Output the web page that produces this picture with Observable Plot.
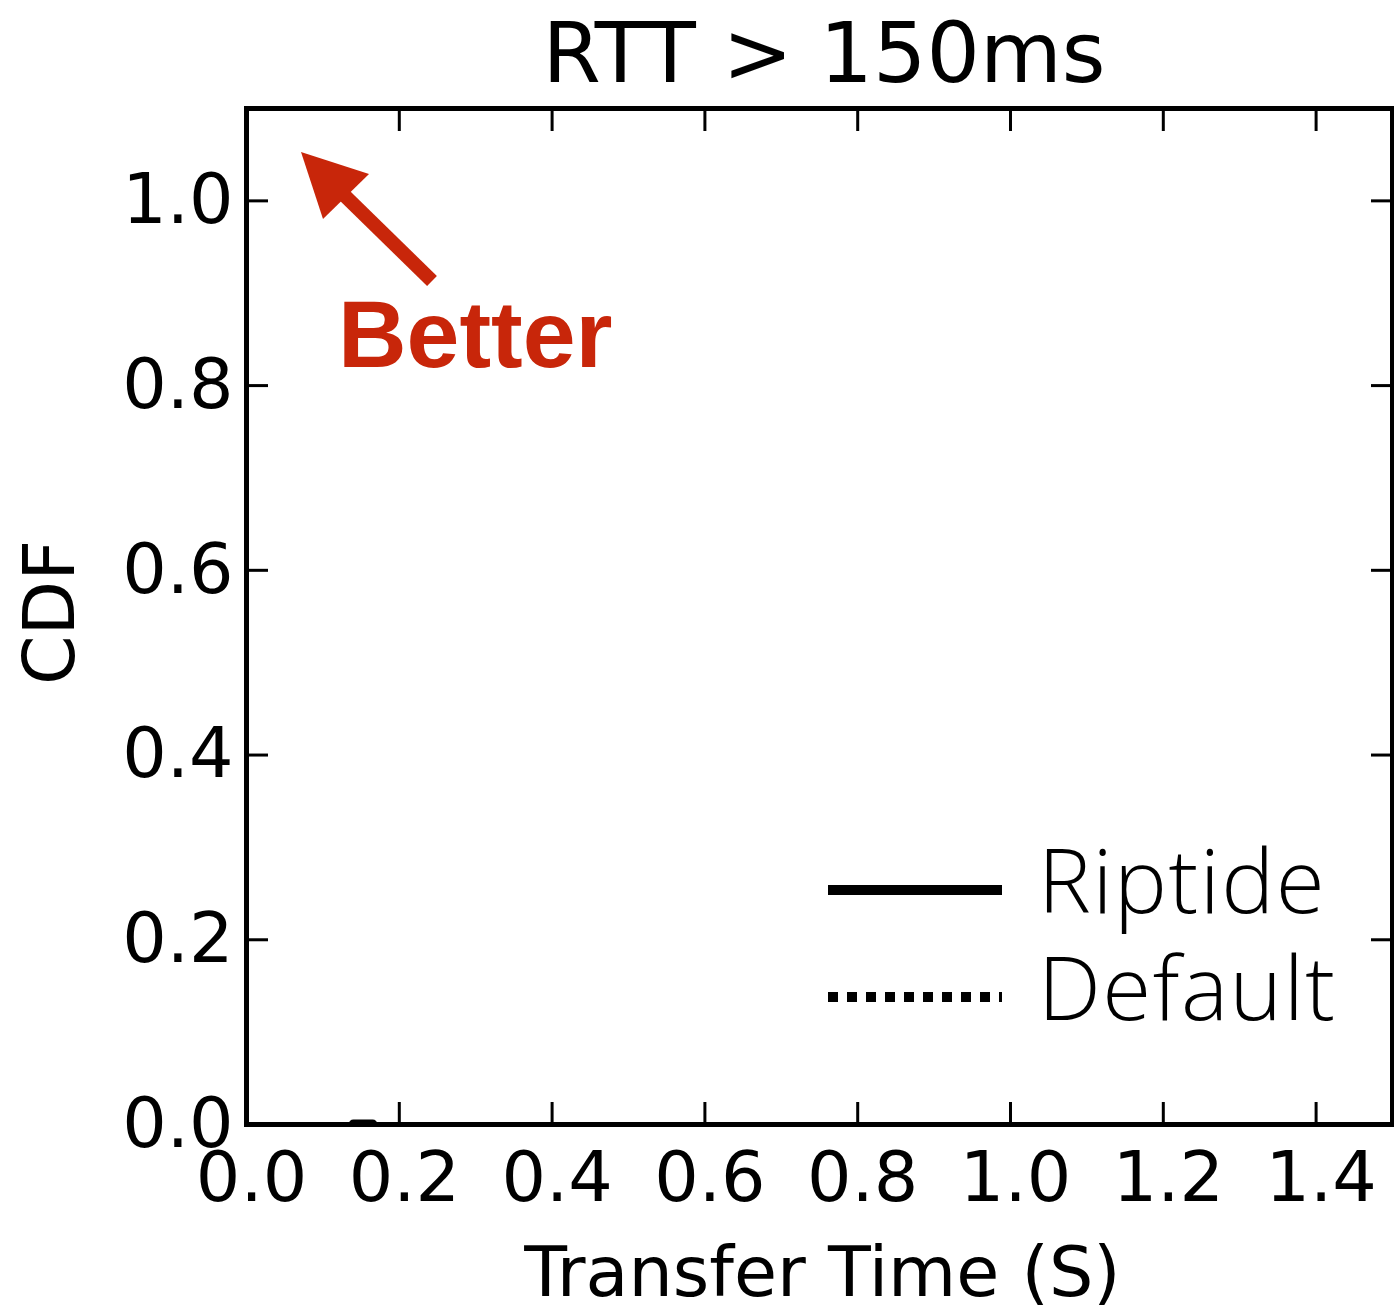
<!DOCTYPE html>
<html>
<head>
<meta charset="utf-8">
<script src="https://cdn.jsdelivr.net/npm/d3@7"></script>
<script src="https://cdn.jsdelivr.net/npm/@observablehq/plot@0.6"></script>
<style>
  html, body { margin: 0; padding: 0; background: #fff; }
  #wrap { position: relative; width: 1394px; height: 1308px; overflow: hidden; }
  #title { height: 100px; box-sizing: border-box; padding: 11px 0 0 254px; font-family: "DejaVu Sans"; font-size: 84px; line-height: 84px; text-align: center; color: #000; white-space: nowrap; }
  #overlay { position: absolute; left: 0; top: 0; pointer-events: none; }
</style>
</head>
<body>
<div id="wrap">
  <div id="title"></div>
  <div id="plot"></div>
  <svg id="overlay" width="1394" height="1308"></svg>
</div>
<script>
// ---- data ----
const chartTitle = "RTT > 150ms";
const xLabel = "Transfer Time (S)";
const yLabel = "CDF";
const seriesNames = ["Riptide", "Default"];
const xTicks = [0, 0.2, 0.4, 0.6, 0.8, 1.0, 1.2, 1.4];
const yTicks = [0, 0.2, 0.4, 0.6, 0.8, 1.0];
// Only a short segment of the Riptide curve is visible (at CDF = 0)
const riptideTime = [0.14, 0.165];
const riptideCdf = [0, 0];
// Nothing of the Default curve is visible in the plotted range
const defaultTime = [];
const defaultCdf = [];
const annotationText = "Better";

const riptide = riptideTime.map((t, i) => ({t, c: riptideCdf[i], s: seriesNames[0]}));
const deflt = defaultTime.map((t, i) => ({t, c: defaultCdf[i], s: seriesNames[1]}));

document.getElementById("title").textContent = chartTitle;

const fmt = d3.format(".1f");
const chart = Plot.plot({
  width: 1394,
  height: 1208,
  marginLeft: 246,
  marginRight: 2,
  marginTop: 8,
  marginBottom: 184,
  style: {fontFamily: "DejaVu Sans", fontSize: "70px", color: "#000", background: "#fff"},
  x: {domain: [0, 1.5]},
  y: {domain: [0, 1.1]},
  marks: [
    Plot.line(riptide, {x: "t", y: "c", stroke: "#000", strokeWidth: 10, clip: true}),
    Plot.line(deflt, {x: "t", y: "c", stroke: "#000", strokeWidth: 10, strokeDasharray: "10,9", clip: true}),
    // ticks (inward) on all four sides
    Plot.axisX({ticks: xTicks, anchor: "bottom", tickSize: -22, strokeWidth: 3, fill: "none", label: null}),
    Plot.axisX({ticks: xTicks, anchor: "top", tickSize: -22, strokeWidth: 3, fill: "none", label: null}),
    Plot.axisY({ticks: yTicks, anchor: "left", tickSize: -22, strokeWidth: 3, fill: "none", label: null}),
    Plot.axisY({ticks: yTicks, anchor: "right", tickSize: -22, strokeWidth: 3, fill: "none", label: null}),
    // tick labels
    Plot.axisX({ticks: xTicks, anchor: "bottom", tickSize: 0, tickPadding: 27, dx: 5, fontSize: 70, tickFormat: fmt, label: null}),
    Plot.axisY({ticks: yTicks, anchor: "left", tickSize: 0, tickPadding: 13, fontSize: 70, tickFormat: fmt, label: null}),
    Plot.frame({stroke: "#000", strokeWidth: 5}),
    Plot.text([xLabel], {text: d => d, frameAnchor: "bottom", textAnchor: "middle", lineAnchor: "top", dy: 122, dx: 3, fontSize: 70}),
    Plot.text([yLabel], {text: d => d, frameAnchor: "left", textAnchor: "middle", rotate: -90, lineAnchor: "top", dx: -223, dy: -4, fontSize: 71})
  ]
});
document.getElementById("plot").appendChild(chart);

// ---- overlay: annotation arrow + legend ----
const ov = d3.select("#overlay");
const red = "#c8260a";
ov.append("line").attr("x1", 343).attr("y1", 194).attr("x2", 432).attr("y2", 281)
  .attr("stroke", red).attr("stroke-width", 14);
ov.append("polygon").attr("points", "301,152 369,174 323,219").attr("fill", red);
ov.append("text").attr("x", 338).attr("y", 367).attr("fill", red)
  .attr("font-family", "Liberation Sans, Arial, sans-serif").attr("font-weight", "bold")
  .attr("font-size", 95).text(annotationText);

const legendRows = [
  {name: seriesNames[0], y: 890, dash: null},
  {name: seriesNames[1], y: 997, dash: "10,9"}
];
legendRows.forEach(r => {
  const l = ov.append("line").attr("x1", 828).attr("x2", 1002).attr("y1", r.y).attr("y2", r.y)
    .attr("stroke", "#000").attr("stroke-width", 10);
  if (r.dash) l.attr("stroke-dasharray", r.dash);
  ov.append("text").attr("x", 1038).attr("y", r.y + 23)
    .attr("font-family", "'Open Sans', 'Liberation Sans', sans-serif").attr("font-weight", 300)
    .attr("letter-spacing", 1.5)
    .attr("font-size", 89).attr("fill", "#000").text(r.name);
});
</script>
</body>
</html>
